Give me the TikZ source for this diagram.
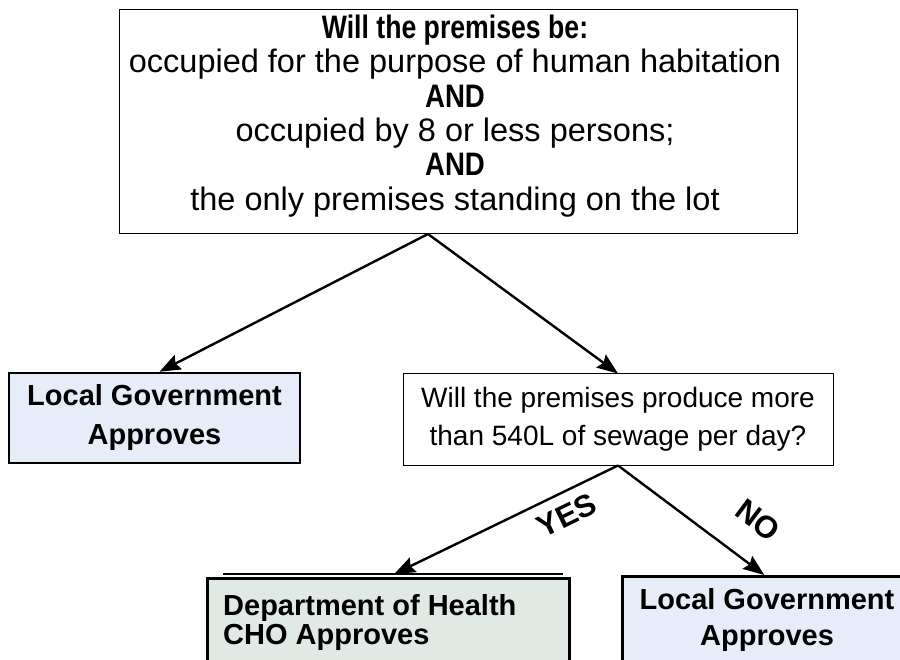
\documentclass[tikz,border=0pt]{standalone}
\usepackage{fontspec}
\usepackage{graphicx}
\setmainfont{Liberation Sans}
\usetikzlibrary{arrows.meta}
\definecolor{lgblue}{HTML}{E6ECF8}
\definecolor{dohgreen}{HTML}{E0E9E4}
\begin{document}
\begin{tikzpicture}[x=1pt,y=-1pt,
  box/.style={draw, line width=1pt, inner sep=0pt},
  dbox/.style={draw, line width=2.5pt, inner sep=0pt},
  arr/.style={line width=2.4pt, -{Stealth[length=21pt,width=16pt,inset=3pt]}},
  boldtxt/.style={font=\fontsize{29}{39}\selectfont\bfseries, align=center},
  lbl/.style={font=\fontsize{31}{31}\selectfont\bfseries, inner sep=0pt},
]
\useasboundingbox (0,0) rectangle (900,660);
\clip (0,0) rectangle (900,660);
\fill[white] (0,0) rectangle (900,660);

% top question
\node[box, minimum width=678pt, minimum height=224pt] (top) at (458,122) {};
\node[align=center, inner sep=0pt, font=\fontsize{32.5}{34.3}\selectfont] (toptext) at (455,116)
  {\scalebox{0.82}[1]{\bfseries Will the premises be:}\\
   occupied for the purpose of human habitation\\
   \scalebox{0.85}[1]{\bfseries AND}\\
   occupied by 8 or less persons;\\
   \scalebox{0.85}[1]{\bfseries AND}\\
   the only premises standing on the lot};
\coordinate (apex) at (428,234);

% left outcome
\node[dbox, fill=lgblue, minimum width=291pt, minimum height=90pt, boldtxt] (lga) at (154.5,418)
  {Local Government\\Approves};

% second question
\node[box, minimum width=430pt, minimum height=91pt, align=center,
      font=\fontsize{28}{38}\selectfont] (mid) at (618,419.5)
  {Will the premises produce more\\than 540L of sewage per day?};

% bottom left outcome
\node[dbox, fill=dohgreen, anchor=north west, minimum width=362pt, minimum height=120pt] (doh) at (206,577) {};
\draw[line width=2pt] ([xshift=17pt,yshift=3pt]doh.north west) -- ([xshift=-8pt,yshift=3pt]doh.north east);
\node[anchor=west, align=left, inner sep=0pt, font=\fontsize{29}{29}\selectfont\bfseries] (dohtext) at (223,622)
  {Department of Health\\CHO Approves};

% bottom right outcome
\node[dbox, fill=lgblue, anchor=north west, minimum width=300pt, minimum height=120pt] (lgb) at (621,575) {};
\node[align=center, inner sep=0pt, font=\fontsize{29}{36}\selectfont\bfseries] (lgbtext) at (767,620)
  {Local Government\\Approves};

% connectors
\draw[arr] (apex) -- ([xshift=5pt]lga.north);
\draw[arr] (apex) -- (mid.north);
\draw[arr] (mid.south) -- ([xshift=6pt,yshift=3pt]doh.north);
\draw[arr] (mid.south) -- ([xshift=-8pt]lgb.north);

% branch labels
\node[lbl, rotate=26] (yes) at (567,515) {YES};
\node[lbl, rotate=-37] (no) at (758,520) {NO};
\end{tikzpicture}
\end{document}
